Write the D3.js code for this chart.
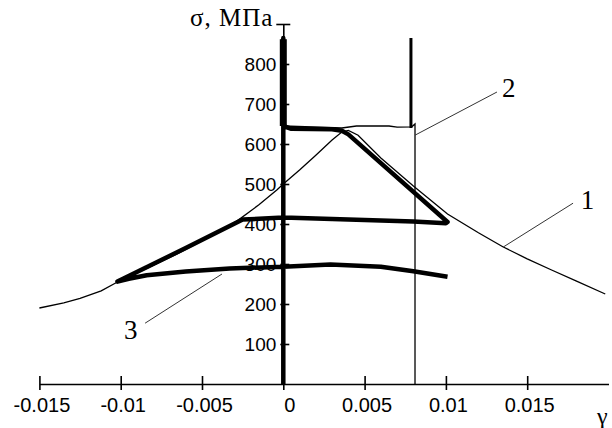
<!DOCTYPE html>
<html>
<head>
<meta charset="utf-8">
<script src="https://cdn.jsdelivr.net/npm/d3@7"></script>
<style>
    body { margin: 0; background: #fff; }
    .tick text { font-family: "Liberation Sans", Arial, sans-serif; fill: #000; }
    .label { font-family: "Liberation Serif", "Times New Roman", serif; fill: #000; }
</style>
</head>
<body>
<div id="chart"></div>
<script>
// strain gamma, stress sigma (MPa)
const curve1 = [
    [-0.0150, 190], [-0.0135, 203], [-0.0125, 214], [-0.0112, 233], [-0.0102, 255],
    [-0.0085, 287], [-0.0065, 326], [-0.0045, 368], [-0.0029, 406], [-0.0015, 448],
    [-0.0004, 485], [0.0000, 500], [0.0010, 535], [0.0020, 572], [0.0030, 610],
    [0.0036, 630], [0.0040, 634], [0.0046, 622], [0.0060, 565], [0.0080, 495],
    [0.0101, 425], [0.0120, 378], [0.0135, 343], [0.0150, 313], [0.0165, 285],
    [0.0180, 258], [0.0198, 225]
];
const curve2 = [
    [0.0000, 645], [0.0036, 640], [0.0045, 645], [0.0065, 645], [0.0070, 642],
    [0.0079, 643], [0.0081, 650], [0.0081, 0]
];
const curve2Spike = [[0.00785, 640], [0.00785, 865]];
const curve3 = [
    [0.0000, 0], [0.0000, 865], [0.0000, 645], [0.0005, 638], [0.0030, 637],
    [0.0036, 633], [0.0040, 624], [0.0101, 405], [0.0100, 402], [0.0080, 406],
    [0.0050, 410], [0.0020, 414], [0.0000, 416], [-0.0025, 411], [-0.0060, 340],
    [-0.0102, 256], [-0.0095, 263], [-0.0084, 272], [-0.0060, 281], [-0.0033, 289],
    [0.0000, 293], [0.0029, 299], [0.0060, 293], [0.0080, 282], [0.0101, 268]
];
const curve3Spike = [[0.0000, 645], [0.0000, 862]];

const xTicks = [-0.015, -0.01, -0.005, 0, 0.005, 0.01, 0.015];
const yTicks = [100, 200, 300, 400, 500, 600, 700, 800, 900];

// callouts: leader start, leader end, text position (data units)
const callouts = [
    { text: "1", from: [0.01351, 342], to: [0.01782, 452], at: [0.0183, 438] },
    { text: "2", from: [0.0081, 622], to: [0.01314, 730], at: [0.01345, 717] },
    { text: "3", from: [-0.0085, 152], to: [-0.00377, 275], at: [-0.0098, 113] }
];

const width = 612, height = 428;

let svg = d3.select("#chart")
    .append("svg")
    .attr("width", width)
    .attr("height", height);

let x = d3.scaleLinear()
    .domain([-0.015, 0.02])
    .range([39.4, 608.5]);
let y = d3.scaleLinear()
    .domain([0, 900])
    .range([384, 24]);

let line = d3.line()
    .x(function(d) { return x(d[0]); })
    .y(function(d) { return y(d[1]); });

// axes
let xAxis = d3.axisBottom(x)
    .tickValues(xTicks)
    .tickSizeOuter(0)
    .tickFormat(function(d) { return d === 0 ? "0" : String(+d.toFixed(3)); });

let xg = svg.append("g")
    .attr("transform", `translate(0, ${y(0)})`)
    .call(xAxis);
xg.select(".domain").attr("stroke-width", 1.6);
xg.selectAll(".tick line").attr("y1", 6).attr("y2", -8).attr("stroke-width", 1.6);
xg.selectAll(".tick text")
    .attr("y", 14)
    .attr("dx", function(d) { return d === 0 ? 6 : 2; })
    .style("font-size", "20px");

let yAxis = d3.axisLeft(y)
    .tickValues(yTicks)
    .tickSizeOuter(0)
    .tickFormat(function(d) { return d === 900 ? "" : d; });

let yg = svg.append("g")
    .attr("transform", `translate(${x(0)}, 0)`)
    .call(yAxis);
yg.select(".domain").attr("stroke-width", 1.6);
yg.selectAll(".tick line")
    .attr("x1", function(d) { return d === 900 ? -7 : -3; })
    .attr("x2", function(d) { return d === 900 ? 7 : 6; })
    .attr("stroke-width", 1.6);
yg.selectAll(".tick text")
    .attr("x", -7)
    .style("font-size", "19px");

// curves
svg.append("path")
    .attr("d", line(curve1))
    .style("fill", "none")
    .style("stroke", "#000")
    .style("stroke-width", "1.3px");

svg.append("path")
    .attr("d", line(curve2))
    .style("fill", "none")
    .style("stroke", "#000")
    .style("stroke-width", "1.3px");

svg.append("path")
    .attr("d", line(curve2Spike))
    .style("fill", "none")
    .style("stroke", "#000")
    .style("stroke-width", "3px");

svg.append("path")
    .attr("d", line(curve3))
    .style("fill", "none")
    .style("stroke", "#000")
    .style("stroke-width", "4.5px")
    .style("stroke-linejoin", "round");

svg.append("path")
    .attr("d", line(curve3Spike))
    .style("fill", "none")
    .style("stroke", "#000")
    .style("stroke-width", "7px");

// callouts
callouts.forEach(function(c) {
    svg.append("line")
        .attr("x1", x(c.from[0])).attr("y1", y(c.from[1]))
        .attr("x2", x(c.to[0])).attr("y2", y(c.to[1]))
        .style("stroke", "#333")
        .style("stroke-width", "1px");
    svg.append("text")
        .attr("class", "label")
        .attr("x", x(c.at[0]))
        .attr("y", y(c.at[1]))
        .style("font-size", "27px")
        .text(c.text);
});

// axis titles
svg.append("text")
    .attr("class", "label")
    .attr("x", x(0) - 10)
    .attr("y", 26)
    .attr("text-anchor", "end")
    .style("font-size", "25px")
    .style("letter-spacing", "1px")
    .text("σ, МПа");

svg.append("text")
    .attr("class", "label")
    .attr("x", 597)
    .attr("y", 424)
    .style("font-size", "24px")
    .text("γ");
</script>
</body>
</html>
